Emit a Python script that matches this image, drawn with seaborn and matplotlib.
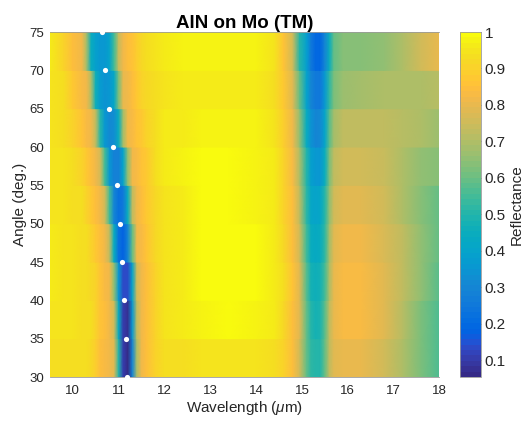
import numpy as np
import matplotlib
matplotlib.use("Agg")
import matplotlib.pyplot as plt
from matplotlib.colors import ListedColormap, Normalize
from matplotlib.cm import ScalarMappable
import pandas as pd
import seaborn as sns

# Wavelength sample points (um) shared by every angle row
wavelength = [9.5, 9.8, 10.0, 10.2, 10.3, 10.4, 10.5, 10.6, 10.7, 10.8,
              10.9, 11.0, 11.1, 11.2, 11.3, 11.4, 11.5, 11.6, 11.8, 12.0,
              12.4, 12.8, 13.4, 14.0, 14.4, 14.6, 14.8, 14.95, 15.1, 15.2,
              15.3, 15.4, 15.5, 15.6, 15.7, 15.9, 16.3, 16.8, 17.2, 17.6, 18.0]

# Incidence angles (deg.) of the reflectance rows
angles = [30, 35, 40, 45, 50, 55, 60, 65, 70]

# TM reflectance spectra, one list per angle
refl_30 = [0.94, 0.94, 0.94, 0.93, 0.93, 0.92, 0.89, 0.85, 0.83, 0.82,
           0.78, 0.50, 0.10, 0.055, 0.30, 0.70, 0.82, 0.85, 0.90, 0.93,
           0.94, 0.95, 0.95, 0.95, 0.94, 0.90, 0.84, 0.76, 0.60, 0.52,
           0.50, 0.51, 0.60, 0.72, 0.78, 0.80, 0.80, 0.76, 0.70, 0.62, 0.56]
refl_35 = [0.95, 0.95, 0.95, 0.94, 0.94, 0.93, 0.90, 0.86, 0.84, 0.82,
           0.76, 0.45, 0.10, 0.08, 0.35, 0.73, 0.82, 0.85, 0.91, 0.95,
           0.97, 0.98, 0.99, 0.98, 0.96, 0.92, 0.85, 0.78, 0.60, 0.50,
           0.48, 0.49, 0.58, 0.72, 0.80, 0.83, 0.83, 0.78, 0.71, 0.63, 0.56]
refl_40 = [0.96, 0.95, 0.95, 0.94, 0.94, 0.92, 0.90, 0.86, 0.83, 0.82,
           0.66, 0.35, 0.13, 0.13, 0.40, 0.76, 0.82, 0.85, 0.91, 0.95,
           0.97, 0.99, 0.99, 0.99, 0.97, 0.93, 0.86, 0.78, 0.58, 0.48,
           0.46, 0.47, 0.55, 0.70, 0.80, 0.83, 0.83, 0.79, 0.73, 0.65, 0.58]
refl_45 = [0.96, 0.95, 0.95, 0.94, 0.93, 0.91, 0.87, 0.84, 0.82, 0.72,
           0.45, 0.22, 0.18, 0.30, 0.60, 0.81, 0.83, 0.86, 0.92, 0.95,
           0.97, 0.99, 0.99, 0.99, 0.97, 0.92, 0.85, 0.75, 0.55, 0.45,
           0.43, 0.44, 0.52, 0.68, 0.78, 0.81, 0.81, 0.77, 0.72, 0.66, 0.60]
refl_50 = [0.95, 0.95, 0.94, 0.93, 0.91, 0.88, 0.84, 0.82, 0.75, 0.55,
           0.30, 0.22, 0.26, 0.45, 0.73, 0.82, 0.84, 0.87, 0.92, 0.95,
           0.97, 0.99, 0.99, 0.98, 0.96, 0.91, 0.84, 0.72, 0.52, 0.42,
           0.40, 0.41, 0.50, 0.66, 0.76, 0.79, 0.79, 0.76, 0.70, 0.64, 0.60]
refl_55 = [0.95, 0.95, 0.94, 0.91, 0.88, 0.84, 0.82, 0.75, 0.55, 0.35,
           0.28, 0.29, 0.40, 0.65, 0.81, 0.83, 0.86, 0.88, 0.93, 0.96,
           0.98, 0.99, 0.99, 0.98, 0.96, 0.90, 0.83, 0.70, 0.50, 0.38,
           0.35, 0.36, 0.45, 0.62, 0.72, 0.76, 0.76, 0.74, 0.70, 0.66, 0.64]
refl_60 = [0.95, 0.94, 0.91, 0.86, 0.83, 0.82, 0.72, 0.50, 0.36, 0.31,
           0.33, 0.45, 0.68, 0.81, 0.83, 0.86, 0.88, 0.90, 0.94, 0.96,
           0.97, 0.98, 0.98, 0.98, 0.95, 0.89, 0.81, 0.65, 0.45, 0.34,
           0.30, 0.31, 0.40, 0.58, 0.68, 0.72, 0.73, 0.72, 0.71, 0.69, 0.67]
refl_65 = [0.95, 0.93, 0.88, 0.83, 0.82, 0.70, 0.46, 0.37, 0.34, 0.35,
           0.42, 0.62, 0.80, 0.82, 0.85, 0.87, 0.90, 0.92, 0.94, 0.95,
           0.96, 0.96, 0.97, 0.97, 0.94, 0.88, 0.79, 0.60, 0.40, 0.30,
           0.25, 0.26, 0.35, 0.52, 0.63, 0.67, 0.68, 0.69, 0.70, 0.70, 0.71]
refl_70 = [0.96, 0.91, 0.84, 0.82, 0.68, 0.45, 0.38, 0.36, 0.36, 0.40,
           0.55, 0.74, 0.82, 0.84, 0.86, 0.89, 0.92, 0.94, 0.95, 0.96,
           0.98, 0.98, 0.98, 0.98, 0.95, 0.86, 0.75, 0.50, 0.38, 0.26,
           0.20, 0.20, 0.30, 0.45, 0.60, 0.64, 0.64, 0.65, 0.70, 0.75, 0.80]

# Resonance wavelength marked at each angle
dot_angles = [30, 35, 40, 45, 50, 55, 60, 65, 70, 75]
dot_wavelength = [11.19, 11.16, 11.12, 11.08, 11.02, 10.97, 10.87, 10.79, 10.71, 10.63]

# Parula-style colour map
_parula = [
    [0.2081, 0.1663, 0.5292], [0.2116, 0.1898, 0.5777], [0.2123, 0.2138, 0.6270],
    [0.2081, 0.2386, 0.6771], [0.1959, 0.2645, 0.7279], [0.1707, 0.2919, 0.7792],
    [0.1253, 0.3242, 0.8303], [0.0591, 0.3598, 0.8683], [0.0117, 0.3875, 0.8820],
    [0.0060, 0.4086, 0.8828], [0.0165, 0.4266, 0.8786], [0.0329, 0.4430, 0.8720],
    [0.0498, 0.4586, 0.8641], [0.0629, 0.4737, 0.8554], [0.0723, 0.4887, 0.8467],
    [0.0779, 0.5040, 0.8384], [0.0793, 0.5200, 0.8312], [0.0749, 0.5375, 0.8263],
    [0.0641, 0.5570, 0.8240], [0.0488, 0.5772, 0.8228], [0.0343, 0.5966, 0.8199],
    [0.0265, 0.6137, 0.8135], [0.0239, 0.6287, 0.8038], [0.0231, 0.6418, 0.7913],
    [0.0228, 0.6535, 0.7768], [0.0267, 0.6642, 0.7607], [0.0384, 0.6743, 0.7436],
    [0.0590, 0.6838, 0.7254], [0.0843, 0.6928, 0.7062], [0.1133, 0.7015, 0.6859],
    [0.1453, 0.7098, 0.6646], [0.1801, 0.7177, 0.6424], [0.2178, 0.7250, 0.6193],
    [0.2586, 0.7317, 0.5954], [0.3022, 0.7376, 0.5712], [0.3482, 0.7424, 0.5473],
    [0.3953, 0.7459, 0.5244], [0.4420, 0.7481, 0.5033], [0.4871, 0.7491, 0.4840],
    [0.5300, 0.7491, 0.4661], [0.5709, 0.7485, 0.4494], [0.6099, 0.7473, 0.4337],
    [0.6473, 0.7456, 0.4188], [0.6834, 0.7435, 0.4044], [0.7184, 0.7411, 0.3905],
    [0.7525, 0.7384, 0.3768], [0.7858, 0.7356, 0.3633], [0.8185, 0.7327, 0.3498],
    [0.8507, 0.7299, 0.3360], [0.8824, 0.7274, 0.3217], [0.9139, 0.7258, 0.3063],
    [0.9450, 0.7261, 0.2886], [0.9739, 0.7314, 0.2666], [0.9938, 0.7455, 0.2403],
    [0.9990, 0.7653, 0.2164], [0.9955, 0.7861, 0.1967], [0.9880, 0.8066, 0.1794],
    [0.9789, 0.8271, 0.1633], [0.9697, 0.8481, 0.1475], [0.9626, 0.8705, 0.1309],
    [0.9589, 0.8949, 0.1132], [0.9598, 0.9218, 0.0948], [0.9661, 0.9514, 0.0755],
    [0.9763, 0.9831, 0.0538]]
parula = ListedColormap(_parula, name="parula")

sns.set_theme(style="white")
plt.rcParams["font.family"] = ["Liberation Sans", "DejaVu Sans"]
plt.rcParams["mathtext.fontset"] = "custom"
plt.rcParams["mathtext.it"] = "Liberation Sans:italic"
plt.rcParams["mathtext.rm"] = "Liberation Sans"

text_col = "#262626"
fig = plt.figure(figsize=(5.26, 4.22), dpi=100)
ax = fig.add_axes([0.095, 0.1066, 0.7402, 0.8175])
cax = fig.add_axes([0.8745, 0.1066, 0.0393, 0.8175])

norm = Normalize(vmin=0.054, vmax=1.0)
rows = [refl_30, refl_35, refl_40, refl_45, refl_50, refl_55, refl_60, refl_65, refl_70]
wl = np.asarray(wavelength)
step = angles[1] - angles[0]
for ang, row in zip(angles, rows):
    X = np.vstack([wl, wl])
    Y = np.vstack([np.full_like(wl, ang), np.full_like(wl, ang + step)])
    C = np.vstack([row, row])
    ax.pcolormesh(X, Y, C, shading="gouraud", cmap=parula, norm=norm,
                  antialiased=False, rasterized=True)

dots = pd.DataFrame({"wavelength": dot_wavelength, "angle": dot_angles})
sns.scatterplot(data=dots, x="wavelength", y="angle", ax=ax, color="white",
                s=14, linewidth=0, zorder=5, clip_on=False, legend=False)

ax.set_xlim(9.5, 18)
ax.set_ylim(30, 75)
ax.set_xticks(range(10, 19))
ax.set_yticks(range(30, 76, 5))
ax.tick_params(axis="both", labelsize=9.5, colors=text_col, length=0)
ax.tick_params(axis="x", pad=6)
ax.tick_params(axis="y", pad=4)
for s in ax.spines.values():
    s.set_color("#9a9a9a")
    s.set_linewidth(0.6)
ax.spines["left"].set_visible(False)
ax.spines["right"].set_visible(False)
ax.set_xlabel("Wavelength ($\\mu$m)", fontsize=11, color=text_col, labelpad=1)
ax.set_ylabel("Angle (deg.)", fontsize=11, color=text_col, labelpad=2)
ax.set_title("AlN on Mo (TM)", fontsize=13.5, fontweight="bold", color="black", pad=3)

cb = fig.colorbar(ScalarMappable(norm=norm, cmap=parula), cax=cax)
cb.set_ticks([0.1, 0.2, 0.3, 0.4, 0.5, 0.6, 0.7, 0.8, 0.9, 1.0])
cb.set_ticklabels(["0.1", "0.2", "0.3", "0.4", "0.5", "0.6", "0.7", "0.8", "0.9", "1"])
cb.ax.tick_params(labelsize=11, colors=text_col, direction="in", length=3,
                  width=0.6, pad=3)
cb.outline.set_edgecolor("#9a9a9a")
cb.outline.set_linewidth(0.6)
cb.set_label("Reflectance", fontsize=11, color=text_col, labelpad=3)

fig.savefig("out.png", dpi=100)
